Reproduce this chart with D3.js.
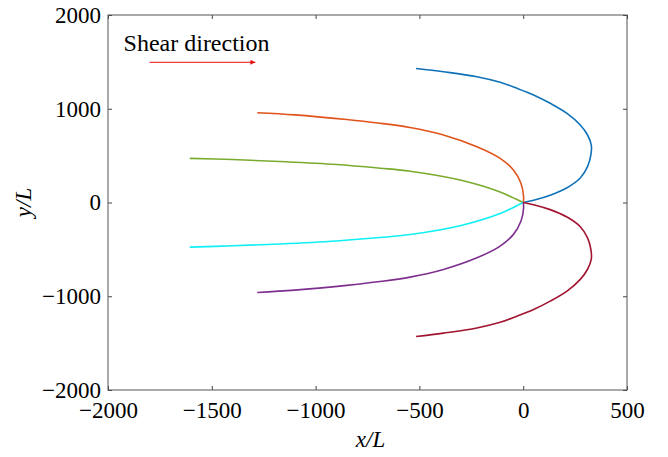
<!DOCTYPE html>
<html>
<head>
<meta charset="utf-8">
<script src="https://cdn.jsdelivr.net/npm/d3@7"></script>
<style>
  body { margin: 0; background: #fff; }
  svg text { font-family: "Liberation Serif", "DejaVu Serif", serif; fill: #000; }
</style>
</head>
<body>
<div id="chart"></div>
<script>
// axis ticks
var xTicks = [-2000, -1500, -1000, -500, 0, 500];
var yTicks = [-2000, -1000, 0, 1000, 2000];

// trajectories, [x/L, y/L]
var blue = [[-516, 1430], [-384, 1395], [-223, 1342], [-111, 1282], [-30, 1218], [50, 1147], [130, 1058], [211, 951], [275, 827], [310, 720], [328, 613], [326, 507], [310, 382], [275, 262], [211, 158], [130, 78], [50, 24], [0, 0]];
var orange = [[-1281, 958], [-1100, 935], [-850, 885], [-700, 848], [-545, 800], [-384, 720], [-223, 595], [-111, 471], [-47, 347], [-11, 205], [2, 62], [0, 0]];
var green = [[-1606, 471], [-1400, 458], [-1172, 437], [-900, 405], [-690, 366], [-545, 334], [-304, 240], [-111, 113], [-50, 52], [0, 0]];
var cyan = [[-1606, -476], [-1400, -462], [-1172, -442], [-900, -410], [-690, -374], [-545, -342], [-304, -248], [-111, -118], [-50, -55], [0, 0]];
var purple = [[-1281, -960], [-1100, -935], [-850, -884], [-700, -846], [-545, -796], [-384, -714], [-223, -590], [-111, -465], [-47, -340], [-11, -200], [2, -60], [0, 0]];
var darkred = [[-516, -1430], [-384, -1393], [-223, -1338], [-111, -1278], [-30, -1213], [50, -1142], [130, -1052], [211, -945], [275, -820], [310, -712], [328, -605], [326, -500], [310, -377], [275, -258], [211, -155], [130, -76], [50, -23], [0, 0]];

var series = [
  {pts: blue, color: "#0f72b9"},
  {pts: orange, color: "#e0531a"},
  {pts: green, color: "#7aab2e"},
  {pts: cyan, color: "#10f0f4"},
  {pts: purple, color: "#7e2f8e"},
  {pts: darkred, color: "#a2142f"}
];

var serif = "Liberation Serif, DejaVu Serif, serif";

var margin = {top: 15, right: 41, bottom: 67, left: 108},
    width = 668 - margin.left - margin.right,
    height = 457 - margin.top - margin.bottom;

var x = d3.scaleLinear().domain([-2000, 500]).range([0, width]);
var y = d3.scaleLinear().domain([-2000, 2000]).range([height, 0]);

var svg = d3.select("#chart").append("svg")
    .attr("width", 668)
    .attr("height", 457)
  .append("g")
    .attr("transform", "translate(" + margin.left + "," + margin.top + ")");

var fmt = d3.format("d");

// inward ticks on all four sides
var axes = [
  svg.append("g")
    .attr("transform", "translate(0," + height + ")")
    .call(d3.axisBottom(x).tickValues(xTicks).tickFormat(fmt).tickSizeInner(-4).tickSizeOuter(0).tickPadding(12)),
  svg.append("g")
    .call(d3.axisTop(x).tickValues(xTicks).tickFormat("").tickSizeInner(-4).tickSizeOuter(0)),
  svg.append("g")
    .call(d3.axisLeft(y).tickValues(yTicks).tickFormat(fmt).tickSizeInner(-4).tickSizeOuter(0).tickPadding(7)),
  svg.append("g")
    .attr("transform", "translate(" + width + ",0)")
    .call(d3.axisRight(y).tickValues(yTicks).tickFormat("").tickSizeInner(-4).tickSizeOuter(0))
];
axes.forEach(function(a) {
  a.attr("font-family", serif).attr("font-size", 23);
});

svg.selectAll(".domain").remove();
svg.selectAll(".tick line").attr("stroke", "#444");

svg.append("rect")
    .attr("width", width)
    .attr("height", height)
    .attr("fill", "none")
    .attr("stroke", "#555")
    .attr("stroke-width", 1);

// curves
var line = d3.line()
    .x(function(d) { return x(d[0]); })
    .y(function(d) { return y(d[1]); })
    .curve(d3.curveCatmullRom);

series.forEach(function(s) {
  svg.append("path")
    .datum(s.pts)
    .attr("fill", "none")
    .attr("stroke", s.color)
    .attr("stroke-width", 1.6)
    .attr("d", line);
});

// shear annotation
svg.append("defs").append("marker")
    .attr("id", "head")
    .attr("viewBox", "0 0 10 10")
    .attr("refX", 10).attr("refY", 5)
    .attr("markerWidth", 7).attr("markerHeight", 5)
    .attr("markerUnits", "userSpaceOnUse")
    .attr("orient", "auto")
  .append("path")
    .attr("d", "M0,0L10,5L0,10Z")
    .attr("fill", "#e10f0f");

svg.append("text")
    .attr("x", x(-1925))
    .attr("y", y(1620))
    .attr("font-family", serif)
    .attr("font-size", 24)
    .text("Shear direction");

svg.append("line")
    .attr("x1", x(-1800)).attr("x2", x(-1290))
    .attr("y1", y(1495)).attr("y2", y(1495))
    .attr("stroke", "#e8403f")
    .attr("stroke-width", 1.2)
    .attr("marker-end", "url(#head)");

// axis titles
svg.append("text")
    .attr("x", width / 2 + 3)
    .attr("y", height + 57)
    .attr("text-anchor", "middle")
    .attr("font-family", serif)
    .attr("font-size", 23)
    .attr("font-style", "italic")
    .text("x/L");

svg.append("text")
    .attr("transform", "translate(" + (-77) + "," + (height / 2) + ") rotate(-90)")
    .attr("text-anchor", "middle")
    .attr("font-family", serif)
    .attr("font-size", 23)
    .attr("font-style", "italic")
    .text("y/L");
</script>
</body>
</html>
